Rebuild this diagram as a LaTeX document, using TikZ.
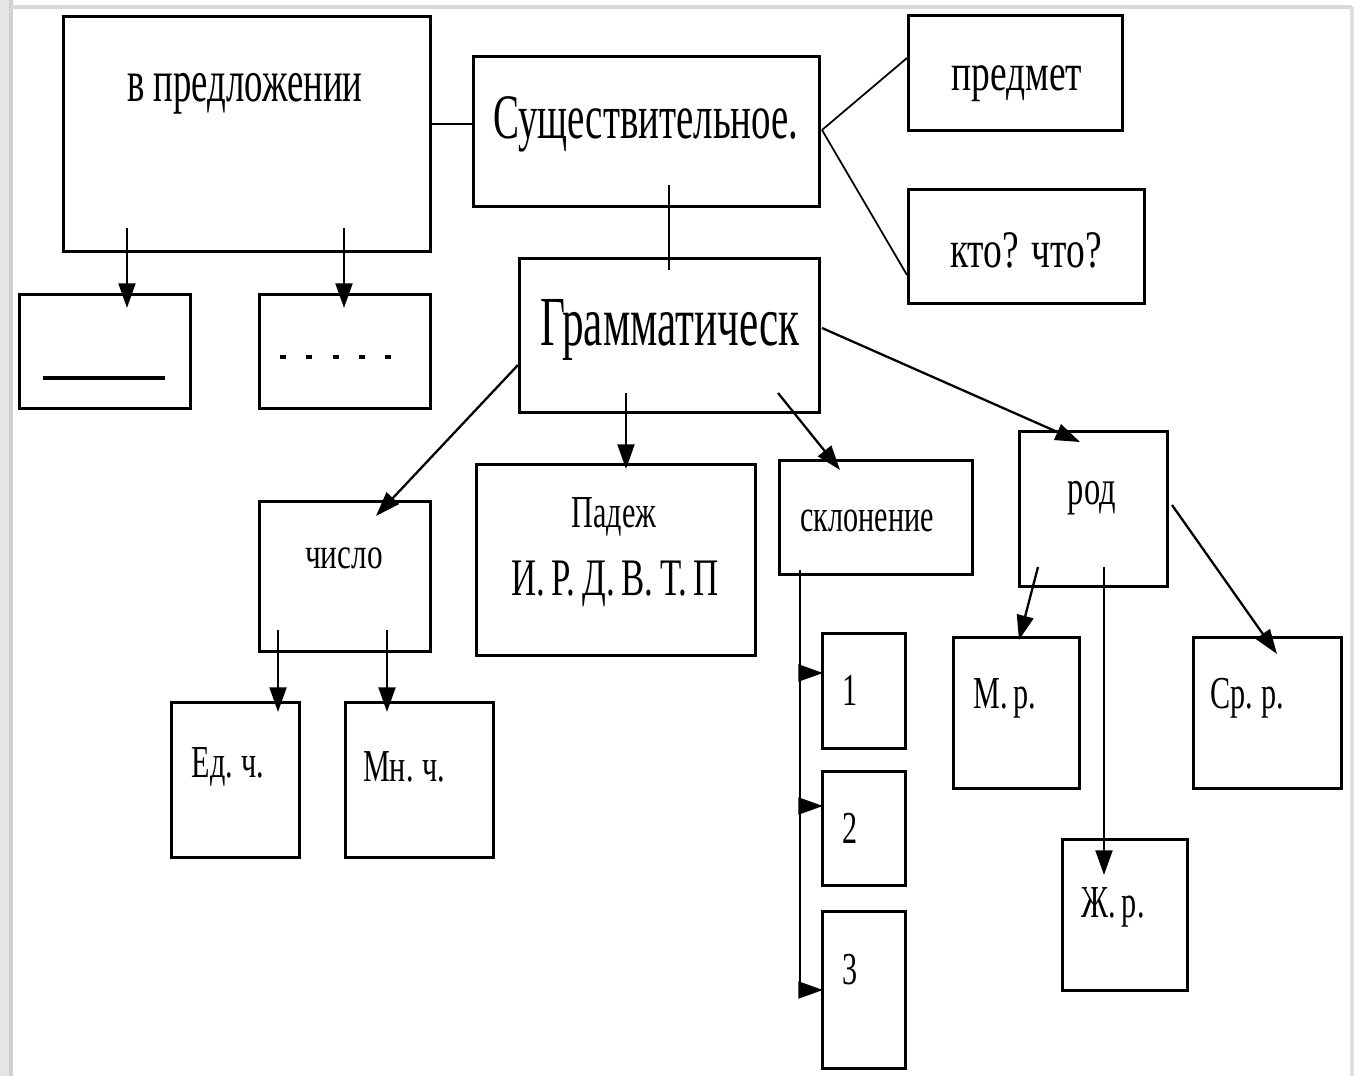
\documentclass[tikz,border=0pt]{standalone}
\usepackage{fontspec}
\setmainfont{Liberation Serif}
\newfontfamily\cf[FakeStretch=0.66]{Liberation Serif}
\newfontfamily\cfn[FakeStretch=0.615]{Liberation Serif}
\newfontfamily\cfw[FakeStretch=0.71]{Liberation Serif}
\usetikzlibrary{arrows.meta}
\tikzset{
  box/.style={draw, line width=0.95pt, rectangle, inner sep=0pt, anchor=north west},
  lbl/.style={font=\cf, inner sep=0pt, anchor=center},
  conn/.style={line width=0.6pt},
  arr/.style={line width=0.65pt, -{Triangle[length=7pt,width=4.8pt]}},
}
\newcommand{\bx}[5]{\node[box, minimum width=#4*0.2845pt-0.95pt, minimum height=#5*0.2845pt-0.95pt] (#1) at (#2,#3) {};}
\newcommand{\tsp}{\spaceskip=0.13em\relax}
\begin{document}
\begin{tikzpicture}[x=0.01cm,y=-0.01cm]
\useasboundingbox (0,0) rectangle (1359,1076);
\fill[white] (0,0) rectangle (1359,1076);
\fill[black!10] (0,0) rectangle (11,1076);
\draw[black!18, line width=1.2pt] (11,0) -- (11,1076);
\draw[black!15, line width=1.2pt] (11,7) -- (1352,7);
\draw[black!12, line width=1pt] (1352,7) -- (1352,1076);

% boxes
\bx{vp}{62}{15}{370}{238}
\bx{s1}{18}{293}{174}{117}
\bx{s2}{258}{293}{174}{117}
\bx{sus}{472}{55}{349}{153}
\bx{pr}{907}{14}{217}{118}
\bx{kto}{907}{188}{239}{117}
\bx{gr}{518}{257}{303}{157}
\bx{chis}{258}{500}{174}{153}
\bx{pad}{475}{463}{282}{194}
\bx{skl}{778}{459}{196}{117}
\bx{rod}{1018}{430}{151}{158}
\bx{ed}{170}{701}{131}{158}
\bx{mn}{344}{701}{151}{158}
\bx{n1}{821}{632}{86}{118}
\bx{n2}{821}{770}{86}{117}
\bx{n3}{821}{910}{86}{160}
\bx{mr}{952}{636}{129}{154}
\bx{sr}{1192}{636}{151}{154}
\bx{zr}{1061}{838}{128}{154}

% texts
\node[lbl, font=\cfn\fontsize{17}{20}\selectfont] (tvp) at (245,94) {в предложении};
\node[lbl, font=\cfn\fontsize{18}{22}\selectfont] (tsus) at (646,124) {Существительное.};
\node[lbl, font=\cfw\fontsize{15}{18}\selectfont] (tpr) at (1017,84) {предмет};
\node[lbl, font=\cfw\fontsize{15}{18}\selectfont] (tkto) at (1026,250) {кто? что?};
\node[lbl, font=\cfn\fontsize{20}{24}\selectfont] (tgr) at (670,330) {Грамматическ};
\node[lbl, font=\cfw\fontsize{12.5}{15}\selectfont] (tchis) at (344,558) {число};
\node[lbl, font=\cf\fontsize{13}{16}\selectfont] (tpad1) at (614,517) {Падеж};
\node[lbl, font=\cf\fontsize{15}{18}\selectfont\tsp] (tpad2) at (615,584) {И. Р. Д. В. Т. П};
\node[lbl, font=\cf\fontsize{13}{16}\selectfont] (tskl) at (867,521) {склонение};
\node[lbl, font=\cf\fontsize{14}{17}\selectfont] (trod) at (1092,498) {род};
\node[lbl, font=\cf\fontsize{13}{16}\selectfont\tsp] (ted) at (228,767) {Ед. ч.};
\node[lbl, font=\cf\fontsize{13}{16}\selectfont\tsp] (tmn) at (404,767) {Мн. ч.};
\node[lbl, font=\cf\fontsize{13}{16}\selectfont] (t1) at (850,690) {1};
\node[lbl, font=\cf\fontsize{13}{16}\selectfont] (t2) at (850,828) {2};
\node[lbl, font=\cf\fontsize{13}{16}\selectfont] (t3) at (850,970) {3};
\node[lbl, font=\cf\fontsize{13}{16}\selectfont\tsp] (tmr) at (1005,698) {М. р.};
\node[lbl, font=\cf\fontsize{13}{16}\selectfont\tsp] (tsr) at (1247,698) {Ср. р.};
\node[lbl, font=\cf\fontsize{13}{16}\selectfont\tsp] (tzr) at (1113,907) {Ж. р.};

% contents of small boxes
\coordinate (ul1) at (43,378);
\coordinate (ul2) at (165,378);
\draw[line width=0.9pt] (ul1) -- (ul2);
\coordinate (dl1) at (280,357);
\coordinate (dl2) at (391,357);
\draw[line width=1pt, dash pattern=on 1.7pt off 5.77pt] (dl1) -- (dl2);

% connection points
\coordinate (a1s) at (127,228); \coordinate (a1e) at (127,308);
\coordinate (a2s) at (344,228); \coordinate (a2e) at (344,308);
\coordinate (sv1) at (669,185); \coordinate (sv2) at (669,270);
\coordinate (sr0) at (822,130);
\coordinate (prw) at (907,58);
\coordinate (ktw) at (907,275);
\coordinate (g1s) at (518,365); \coordinate (g1e) at (376,516);
\coordinate (g2s) at (626,393); \coordinate (g2e) at (626,469);
\coordinate (g3s) at (778,393); \coordinate (g3e) at (840,470);
\coordinate (g4s) at (822,328); \coordinate (g4e) at (1080,442);
\coordinate (c1s) at (278,630); \coordinate (c1e) at (278,712);
\coordinate (c2s) at (387,630); \coordinate (c2e) at (387,712);
\coordinate (k0) at (800,570);
\coordinate (k1) at (800,673); \coordinate (k1e) at (823,673);
\coordinate (k2) at (800,806); \coordinate (k2e) at (823,806);
\coordinate (k3) at (800,990); \coordinate (k3e) at (823,990);
\coordinate (r1s) at (1038,567); \coordinate (r1e) at (1019,640);
\coordinate (r2s) at (1104,567); \coordinate (r2e) at (1104,875);
\coordinate (r3s) at (1172,505); \coordinate (r3e) at (1277,654);

% connectors
\draw[arr] (a1s) -- (a1e);
\draw[arr] (a2s) -- (a2e);
\draw[conn] (vp.east |- 0,124) -- (sus.west |- 0,124);
\draw[conn] (sv1) -- (sv2);
\draw[line width=0.5pt] (sr0) -- (prw);
\draw[line width=0.5pt] (sr0) -- (ktw);
\draw[arr] (g1s) -- (g1e);
\draw[arr] (g2s) -- (g2e);
\draw[arr] (g3s) -- (g3e);
\draw[arr] (g4s) -- (g4e);
\draw[arr] (c1s) -- (c1e);
\draw[arr] (c2s) -- (c2e);
\draw[conn] (k0) -- (k3);
\draw[arr] (k1) -- (k1e);
\draw[arr] (k2) -- (k2e);
\draw[arr] (k3) -- (k3e);
\draw[arr] (r1s) -- (r1e);
\draw[arr] (r2s) -- (r2e);
\draw[arr] (r3s) -- (r3e);
\end{tikzpicture}
\end{document}
